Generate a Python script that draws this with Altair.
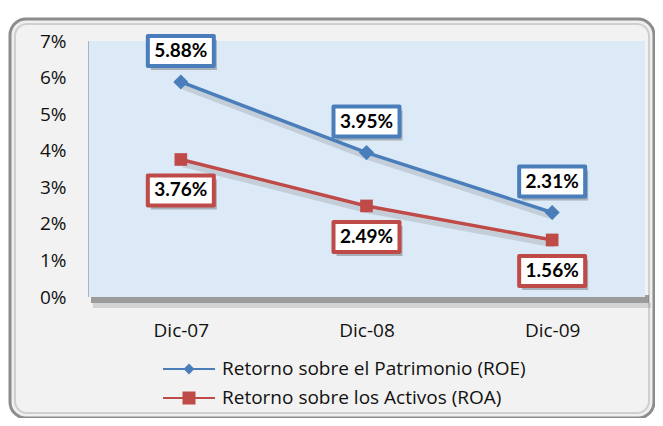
import altair as alt
import pandas as pd

# ---------------- data ----------------
fechas = ["Dic-07", "Dic-08", "Dic-09"]
roe = [5.88, 3.95, 2.31]
roa = [3.76, 2.49, 1.56]
series = ["Retorno sobre el Patrimonio (ROE)", "Retorno sobre los Activos (ROA)"]
colores = ["#4A7EBB", "#BE4B48"]
y_ticks = [0, 0.01, 0.02, 0.03, 0.04, 0.05, 0.06, 0.07]

rows = []
for s, vals in zip(series, [roe, roa]):
    for f, v in zip(fechas, vals):
        rows.append({"fecha": f, "serie": s, "valor": v / 100, "etiqueta": f"{v:.2f}%"})
df = pd.DataFrame(rows)
one = pd.DataFrame({"k": [0]})

W, H = 557, 256
FONT = "Open Sans"
FS = 19

x = alt.X("fecha:N", sort=fechas,
          scale=alt.Scale(type="point", padding=0.5),
          axis=alt.Axis(title=None, labelAngle=0, ticks=False, tickSize=0, domain=False,
                        labelPadding=24, labelFontSize=FS, labelFont=FONT,
                        labelColor="#111111", zindex=2))
y = alt.Y("valor:Q", scale=alt.Scale(domain=[0, 0.07], nice=False, zero=True),
          axis=alt.Axis(title=None, format=".0%", values=y_ticks, ticks=False, tickSize=0,
                        domain=False, grid=False, labelPadding=22, labelFontSize=FS,
                        labelFont=FONT, labelColor="#111111", zindex=2))

# ---------------- decoration ----------------
frame = alt.Chart(one).mark_rect(fill="#efefef", stroke="#8c8c8c", strokeWidth=3,
                                 cornerRadius=16).encode(
    x=alt.value(-78), x2=alt.value(566), y=alt.value(-22), y2=alt.value(377))
frame_in = alt.Chart(one).mark_rect(fill="#f2f2f2", stroke="#cfcfcf", strokeWidth=2,
                                    cornerRadius=12).encode(
    x=alt.value(-73), x2=alt.value(561), y=alt.value(-17), y2=alt.value(372))
shadow1 = alt.Chart(one).mark_rect(fill="#555555", opacity=0.55).encode(
    x=alt.value(3), x2=alt.value(561), y=alt.value(254), y2=alt.value(262))
shadow2 = alt.Chart(one).mark_rect(fill="#777777", opacity=0.25).encode(
    x=alt.value(5), x2=alt.value(563), y=alt.value(262), y2=alt.value(267))
plot_bg = alt.Chart(one).mark_rect(fill="#dce9f6").encode(
    x=alt.value(0), x2=alt.value(W), y=alt.value(0), y2=alt.value(H))
left_edge = alt.Chart(one).mark_rule(color="#a9b4c0", strokeWidth=1).encode(
    x=alt.value(0.5), y=alt.value(0), y2=alt.value(H))

layers = [frame, frame_in, shadow2, shadow1, plot_bg, left_edge]

box_path = "M-1,-0.453L1,-0.453L1,0.453L-1,0.453Z"
offsets = [-31, 31]
shapes = ["diamond", "square"]
sizes = [230, 160]

for s, c, off, shp, sz in zip(series, colores, offsets, shapes, sizes):
    base = alt.Chart(df).transform_filter(alt.datum.serie == s)
    layers.append(base.mark_line(color="#333333", strokeWidth=5, opacity=0.15,
                                 xOffset=2, yOffset=5).encode(x=x, y=y))
    layers.append(base.mark_line(color=c, strokeWidth=3.5).encode(x=x, y=y))
    layers.append(base.mark_point(shape=shp, filled=True, size=sz, color=c,
                                  opacity=1).encode(x=x, y=y))
for s, c, off in zip(series, colores, offsets):
    base = alt.Chart(df).transform_filter(alt.datum.serie == s)
    layers.append(base.mark_point(shape=box_path, size=4356, filled=True,
                                  color="#444444", opacity=0.35,
                                  xOffset=3, yOffset=off + 4).encode(x=x, y=y))
    layers.append(base.mark_point(shape=box_path, size=4356, filled=False,
                                  fill="white", fillOpacity=1, stroke=c,
                                  strokeWidth=4, opacity=1, strokeJoin="round",
                                  yOffset=off).encode(x=x, y=y))
    layers.append(base.mark_text(font="Lato", fontSize=19, fontWeight="bold",
                                 color="#000000", baseline="middle", align="center",
                                 yOffset=off).encode(x=x, y=y, text="etiqueta:N"))

# legend layer (invisible points, legend only)
p_roe = "M-1,-0.04H1V0.04H-1ZM-0.21,0L0,-0.21L0.21,0L0,0.21Z"
p_roa = "M-1,-0.04H1V0.04H-1ZM-0.25,-0.25H0.25V0.25H-0.25Z"
leg = alt.Legend(title=None, orient="none", legendX=75, legendY=320,
                 direction="vertical", symbolSize=2704, symbolStrokeWidth=0,
                 symbolOpacity=1, labelFontSize=FS, labelFont=FONT,
                 labelColor="#111111", labelOffset=7, labelLimit=400,
                 clipHeight=16, rowPadding=10, padding=0, zindex=2)
legend_layer = alt.Chart(df).mark_point(filled=True, size=0).encode(
    x=x, y=y,
    color=alt.Color("serie:N", scale=alt.Scale(domain=series, range=colores), legend=leg),
    shape=alt.Shape("serie:N", scale=alt.Scale(domain=series, range=[p_roe, p_roa]),
                    legend=leg),
)
layers.append(legend_layer)

chart = alt.layer(*layers).properties(
    width=W, height=H,
    autosize=alt.AutoSizeParams(type="none"),
    padding={"left": 80, "top": 33, "right": 10, "bottom": 121},
    background="white",
).configure_view(strokeWidth=0)

chart.save("out.html", embed_options={"renderer": "svg", "actions": False})
